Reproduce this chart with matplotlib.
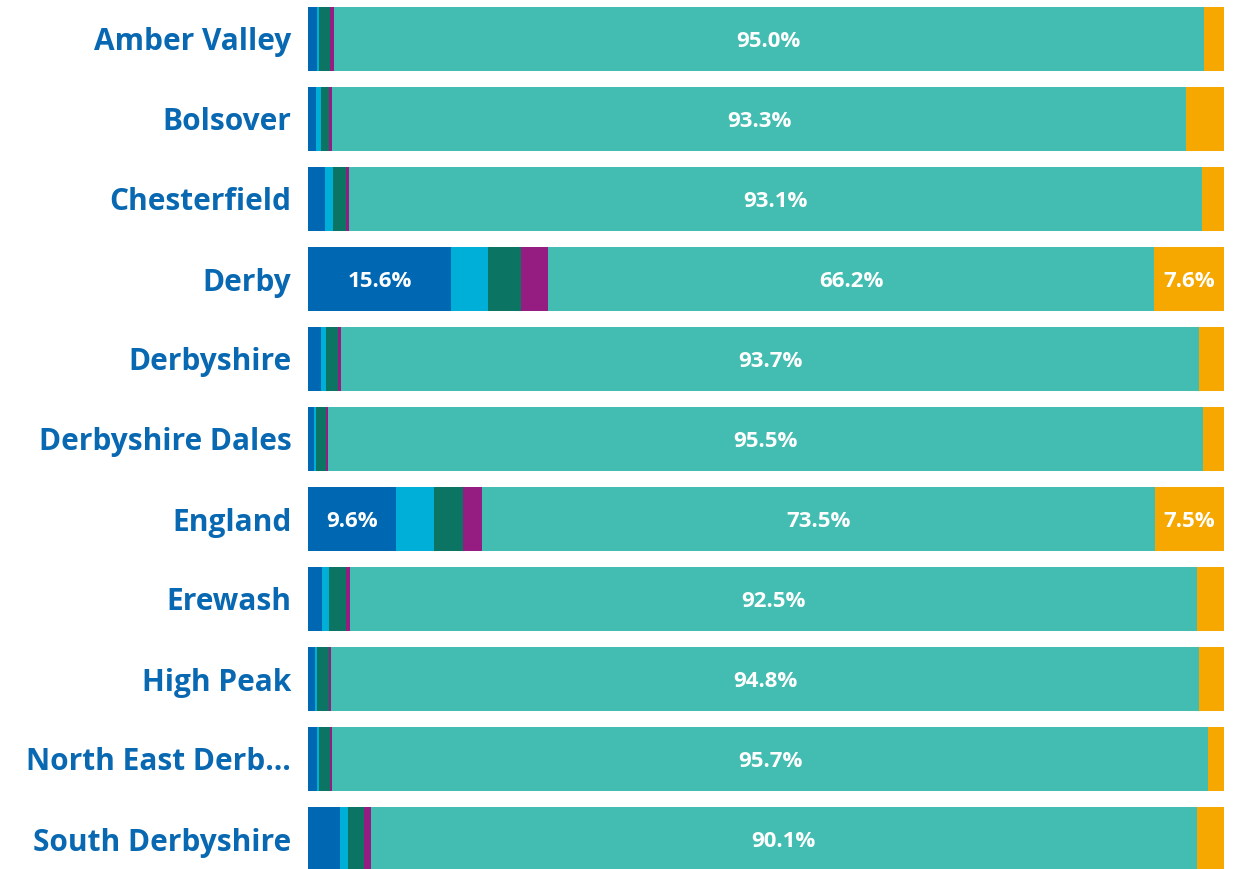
import matplotlib.pyplot as plt
import numpy as np

# 데이터 (100% 누적 막대)
areas = ['Amber Valley', 'Bolsover', 'Chesterfield', 'Derby', 'Derbyshire',
         'Derbyshire Dales', 'England', 'Erewash', 'High Peak',
         'North East Derb…', 'South Derbyshire']
seg_blue = [1.0, 0.9, 1.9, 15.6, 1.4, 0.7, 9.6, 1.5, 0.8, 1.0, 3.5]
seg_lightblue = [0.2, 0.5, 0.8, 4.1, 0.6, 0.2, 4.2, 0.8, 0.2, 0.2, 0.9]
seg_darkgreen = [1.2, 0.9, 1.5, 3.6, 1.3, 1.1, 3.1, 1.8, 1.3, 1.2, 1.7]
seg_purple = [0.4, 0.3, 0.3, 2.9, 0.3, 0.2, 2.1, 0.5, 0.2, 0.2, 0.8]
seg_teal = [95.0, 93.3, 93.1, 66.2, 93.7, 95.5, 73.5, 92.5, 94.8, 95.7, 90.1]
seg_orange = [2.2, 4.1, 2.4, 7.6, 2.7, 2.3, 7.5, 2.9, 2.7, 1.7, 3.0]

series = [seg_blue, seg_lightblue, seg_darkgreen, seg_purple, seg_teal, seg_orange]
colors = ['#0068B2', '#00AFD8', '#0B7462', '#951C80', '#43BDB1', '#F6A800']

label_color = '#0868B1'

fig = plt.figure(figsize=(12.41, 8.69), dpi=100)
ax = fig.add_axes([308 / 1241, -10 / 869, 916 / 1241, 880 / 869])

y = np.arange(len(areas))
left = np.zeros(len(areas))
for vals, col in zip(series, colors):
    vals = np.array(vals)
    ax.barh(y, vals, left=left, height=0.8, color=col, edgecolor='none')
    # 5% 이상인 구간만 값 표시
    for i, v in enumerate(vals):
        if v >= 5:
            ax.text(left[i] + v / 2, y[i] + 0.03, f'{v:.1f}%', ha='center', va='center',
                    color='white', fontsize=16, fontweight='bold', family='Open Sans')
    left += vals

ax.set_xlim(0, 100)
ax.set_ylim(len(areas) - 0.5, -0.5)
ax.set_yticks(y)
ax.set_yticklabels(areas, fontsize=21.5, fontweight='bold', color=label_color, family='Open Sans')
ax.tick_params(axis='y', length=0, pad=12)
ax.set_xticks([])
for s in ax.spines.values():
    s.set_visible(False)

plt.savefig('out.png', dpi=100)
plt.close()
